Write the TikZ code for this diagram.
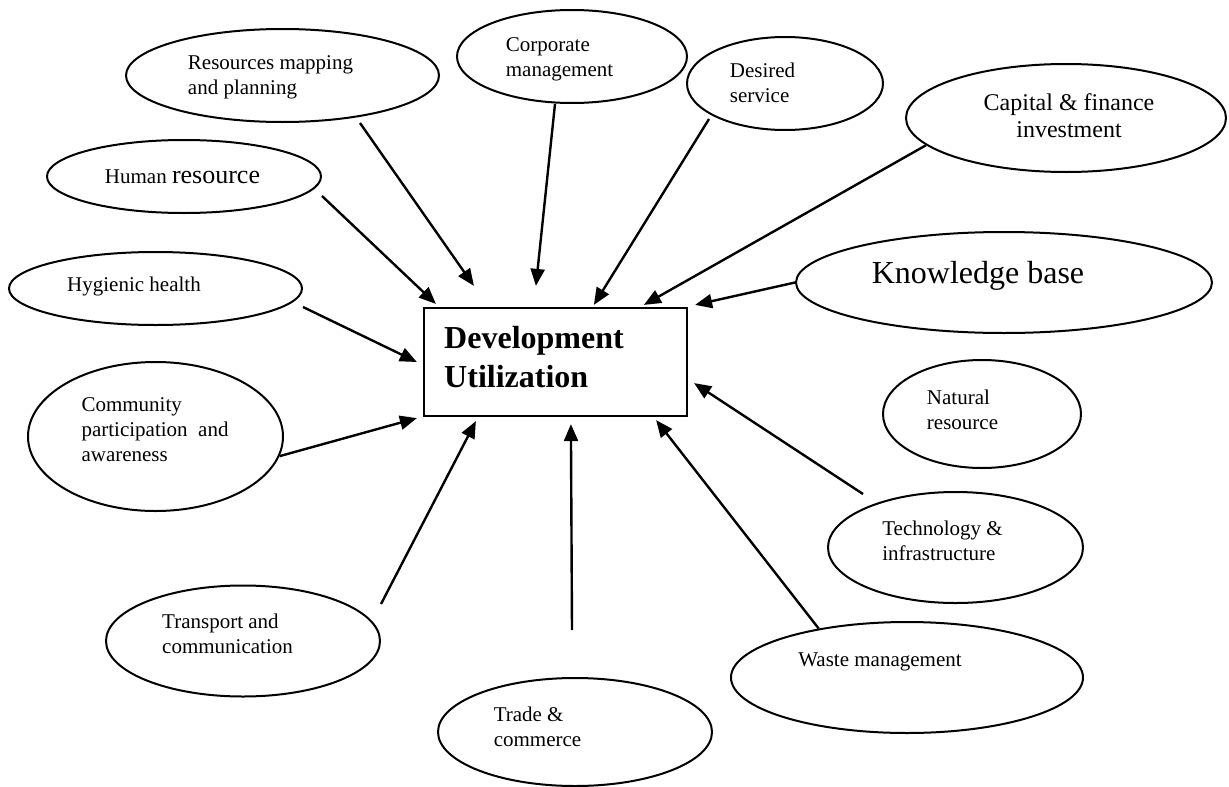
\documentclass[tikz,border=0pt]{standalone}
\usepackage{fontspec}
\setmainfont{Liberation Serif}
\usetikzlibrary{shapes.geometric, arrows.meta}

\begin{document}
\begin{tikzpicture}[x = 1pt, y = -1pt,
  bubble/.style 2 args = {draw, ellipse, line width = 2pt, inner sep = 0pt, minimum width = #1, minimum height = #2},
  lbl/.style = {align = left, inner sep = 0pt, font = \fontsize{21}{25}\selectfont},
  feed/.style = {-{Triangle[length = 17pt, width = 14pt]}, line width = 2.4pt}]
\useasboundingbox (0, 0) rectangle (1229, 787);
% Centre box
\node[draw, line width = 2.2pt, minimum width = 263pt, minimum height = 108pt] (dev) at (555.5, 362) {};
\node[lbl, font = \fontsize{32}{39}\selectfont\bfseries] (dev-t) at (534, 357) {Development\\Utilization};
% Ellipses
\node[bubble = {313pt}{93pt}] (res) at (282.5, 75.5) {};
\node[bubble = {230pt}{93pt}] (corp) at (572, 56.5) {};
\node[bubble = {196pt}{93pt}] (des) at (785, 83.5) {};
\node[bubble = {320pt}{108pt}] (cap) at (1066, 118) {};
\node[bubble = {274pt}{73pt}] (hum) at (184, 176.5) {};
\node[bubble = {293pt}{73pt}] (hyg) at (155.5, 288.5) {};
\node[bubble = {416pt}{101pt}] (know) at (1004, 282.5) {};
\node[bubble = {198pt}{108pt}] (nat) at (982, 414) {};
\node[bubble = {255pt}{149pt}] (comm) at (155.5, 436.5) {};
\node[bubble = {255pt}{111pt}] (tech) at (955.5, 547.5) {};
\node[bubble = {352pt}{111pt}] (waste) at (907, 677.5) {};
\node[bubble = {274pt}{111pt}] (trans) at (243, 641) {};
\node[bubble = {274pt}{108pt}] (trade) at (575, 732) {};
% Labels
\node[lbl] (res-t) at (270.5, 77.5) {Resources mapping\\and planning};
\node[lbl] (corp-t) at (559.5, 59) {Corporate\\management};
\node[lbl] (des-t) at (762.5, 83) {Desired\\service};
\node[lbl, align = center, font = \fontsize{24}{27}\selectfont] (cap-t) at (1069, 115.5) {Capital \& finance\\investment};
\node[lbl] (hum-t) at (182.5, 177) {Human {\fontsize{26}{30}\selectfont resource}};
\node[lbl] (hyg-t) at (134, 286) {Hygienic health};
\node[lbl, font = \fontsize{32}{38}\selectfont] (know-t) at (978, 275.5) {Knowledge base};
\node[lbl] (nat-t) at (962.5, 409.5) {Natural\\resource};
\node[lbl] (comm-t) at (155, 430) {Community\\participation\ \ and\\awareness};
\node[lbl] (tech-t) at (942.5, 540.5) {Technology \&\\infrastructure};
\node[lbl] (waste-t) at (880, 662) {Waste management};
\node[lbl] (trans-t) at (227.5, 633.5) {Transport and\\communication};
\node[lbl] (trade-t) at (537.5, 726.5) {Trade \&\\commerce};
% Arrows into the box
\draw[feed] ([shift = {(77.5, 0)}]res.south) -- ([shift = {(51, -21)}]dev.north west);
\draw[feed] ([shift = {(-17, 0)}]corp.south) -- ([shift = {(113, -21)}]dev.north west);
\draw[feed] ([shift = {(-76, -12)}]des.south) -- ([shift = {(171, -2)}]dev.north west);
\draw[feed] (cap.191) -- ([shift = {(221, -2)}]dev.north west);
\draw[feed] (know.west) -- ([shift = {(7, -2)}]dev.north east);
\draw[feed] ([shift = {(0, 19.5)}]hum.east) -- ([shift = {(13, -3)}]dev.north west);
\draw[feed] ([shift = {(0, 18.5)}]hyg.east) -- ([shift = {(-6, 0)}]dev.west);
\draw[feed] (comm.-9) -- ([shift = {(-6, 1)}]dev.south west);
\draw[feed] ([shift = {(0, -37)}]trans.east) -- ([shift = {(53, 4)}]dev.south west);
\draw[feed] ([shift = {(-3, -47)}]trade.north) -- ([shift = {(148, 7)}]dev.south west);
\draw[feed] (waste.151) -- ([shift = {(-32, 3)}]dev.south east);
\draw[feed] ([shift = {(-92.5, 3)}]tech.north) -- ([shift = {(6, -34)}]dev.south east);
\end{tikzpicture}
\end{document}
